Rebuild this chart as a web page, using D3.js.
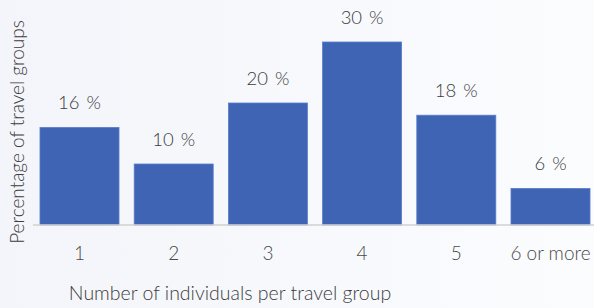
<!DOCTYPE html>
<html>
<head>
<meta charset="utf-8">
<script src="https://cdn.jsdelivr.net/npm/d3@7"></script>
<style>
  body { margin: 0; background: #f6f7fb; }
  svg { display: block; font-family: Lato, "Open Sans", sans-serif; }
</style>
</head>
<body>
<div id="chart"></div>
<script>
const categories = ["1", "2", "3", "4", "5", "6 or more"]
const shares = [16, 10, 20, 30, 18, 6]
const labels = ["16 %", "10 %", "20 %", "30 %", "18 %", "6 %"]

const width = 594, height = 308
const svg = d3.select("#chart").append("svg")
  .attr("width", width)
  .attr("height", height)

// fond légèrement dégradé
const grad = svg.append("defs").append("linearGradient")
  .attr("id", "bg")
grad.append("stop").attr("offset", "0%").attr("stop-color", "#f3f5fa")
grad.append("stop").attr("offset", "100%").attr("stop-color", "#fbfcfe")
svg.append("rect").attr("width", width).attr("height", height).attr("fill", "url(#bg)")

const x = d3.scaleBand()
  .domain(categories)
  .range([32.4, 597.6])
  .paddingInner(0.161)
  .paddingOuter(0.0805)

const y = d3.scaleLinear()
  .domain([0, 30])
  .range([225, 42])

const data = categories.map((c, i) => ({ cat: c, v: shares[i], label: labels[i] }))

svg.selectAll(".bar")
  .data(data)
  .join("rect")
  .attr("class", "bar")
  .attr("x", d => x(d.cat))
  .attr("y", d => y(d.v))
  .attr("width", x.bandwidth())
  .attr("height", d => y(0) - y(d.v))
  .attr("fill", "#3f64b4")
  .attr("stroke", "#5a7ecb")
  .attr("stroke-width", 0.8)

svg.selectAll(".val")
  .data(data)
  .join("text")
  .attr("class", "val")
  .attr("x", d => x(d.cat) + x.bandwidth() / 2)
  .attr("y", d => y(d.v) - 18)
  .attr("text-anchor", "middle")
  .attr("fill", "#3c3c3c")
  .attr("font-size", 18.5)
  .attr("font-weight", 300)
  .style("word-spacing", "2px")
  .text(d => d.label)

// axe x
const xAxis = svg.append("g")
  .attr("transform", `translate(0,${y(0)})`)
  .call(d3.axisBottom(x).tickSize(0).tickPadding(22))
xAxis.attr("font-family", null).attr("font-size", null)
xAxis.select(".domain").attr("stroke", "#d0d0d0").attr("stroke-width", 1.5)
  .attr("d", `M33,0H${width}`)
xAxis.selectAll("text")
  .attr("font-size", 19)
  .attr("font-weight", 300)
  .attr("fill", "#4a4a4a")

svg.append("text")
  .attr("x", 230)
  .attr("y", 300)
  .attr("text-anchor", "middle")
  .attr("fill", "#3c3c3c")
  .attr("font-size", 19.5)
  .attr("font-weight", 300)
  .text("Number of individuals per travel group")

svg.append("text")
  .attr("transform", "translate(24,132) rotate(-90)")
  .attr("text-anchor", "middle")
  .attr("fill", "#3c3c3c")
  .attr("font-size", 19)
  .attr("font-weight", 300)
  .text("Percentage of travel groups")
</script>
</body>
</html>
